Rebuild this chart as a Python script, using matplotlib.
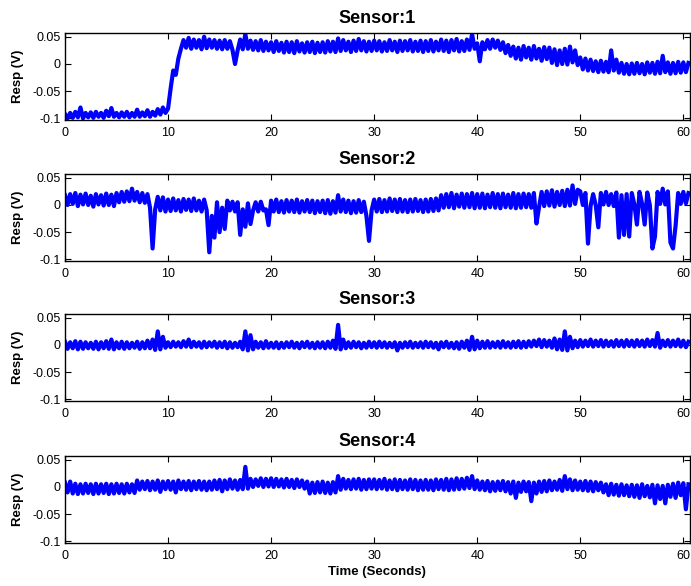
import numpy as np
import matplotlib
matplotlib.use("Agg")
import matplotlib.pyplot as plt

s1_mv = [
    -92, -100, -90, -99, -88, -98, -80, -100, -90, -98, -89, -99, -88, -97, -90, -99, -86, -96, -81, -97,
    -90, -98, -89, -97, -88, -98, -90, -97, -84, -97, -89, -96, -85, -97, -88, -95, -83, -93, -80, -90,
    -82, -45, -12, -20, 10, 28, 44, 30, 48, 28, 45, 30, 44, 27, 50, 29, 45, 30, 44, 28,
    43, 27, 44, 28, 42, 26, 0, 25, 45, 27, 55, 28, 43, 26, 42, 25, 44, 24, 41, 25,
    40, 22, 42, 24, 39, 21, 41, 22, 40, 20, 42, 23, 38, 21, 40, 22, 41, 20, 39, 22,
    40, 21, 42, 23, 41, 22, 47, 24, 44, 25, 41, 22, 43, 24, 46, 25, 42, 23, 41, 24,
    43, 25, 42, 23, 40, 24, 44, 25, 41, 22, 43, 24, 42, 25, 44, 23, 41, 24, 43, 22,
    42, 24, 44, 23, 41, 25, 45, 24, 43, 22, 44, 25, 46, 23, 42, 24, 45, 26, 55, 28,
    38, 5, 40, 27, 44, 28, 45, 30, 43, 26, 40, 20, 35, 15, 32, 10, 30, 8, 33, 12,
    30, 8, 33, 10, 28, 6, 31, 9, 30, 2, 27, -2, 25, 0, 28, -1, 32, 3, 25, -2,
    12, -10, 10, -12, 8, -13, 5, -15, 6, -14, 4, -15, 25, -12, 8, -16, 2, -18, 0, -19,
    1, -18, 2, -17, 0, -19, 3, -16, 2, -18, 4, -17, 15, -15, 3, -18, 2, -17, 4, -16,
    3, -15, 2,
]
s2_mv = [
    18, 0, 20, 2, 22, -2, 19, 1, 21, 0, 17, -3, 20, 1, 18, -1, 21, 0, 19, -2,
    22, 5, 24, 6, 25, 7, 30, 8, 24, 5, 22, 4, 20, -5, -80, -8, 15, -10, 14, -12,
    10, -11, 12, -10, 9, -12, 11, -9, 10, -11, 12, -10, 8, -12, 10, -10, -87, -20, -60, 5,
    -50, -5, -44, 8, -10, 6, -12, 5, -55, -8, -40, 3, -35, -10, 5, -12, 6, -10, -8, -37,
    8, -12, 10, -13, 7, -14, 9, -12, 8, -13, 10, -14, 7, -12, 9, -13, 8, -15, 7, -13,
    8, -15, 9, -16, 7, -14, 18, -12, 10, -13, 8, -15, 7, -14, 9, -13, 6, -20, -66, -10,
    10, -12, 11, -13, 9, -12, 12, -11, 10, -13, 11, -12, 9, -13, 10, -12, 11, -11, 9, -13,
    10, -12, 11, -11, 12, -10, 18, -5, 20, -4, 22, -6, 19, -3, 21, -5, 20, -4, 22, -6,
    20, -5, 21, -6, 19, -4, 22, -5, 20, -6, 21, -4, 19, -5, 22, -6, 20, -5, 21, -4,
    20, -5, 22, -34, -4, 24, -2, 25, -1, 27, -3, 24, 0, 26, -2, 28, -1, 36, 2, 28,
    25, 0, 22, -71, -2, 20, 0, -41, 22, 1, 24, 0, 20, -2, 23, -60, 18, -55, 20, -58,
    22, 1, -36, 24, 2, -36, 23, 0, -80, -58, 24, 2, 30, 1, 25, -69, -80, -38, 22, 2,
    24, 3, 22,
]
s3_mv = [
    6, -7, 5, -6, 7, -8, 6, -7, 5, -6, 4, -7, 6, -8, 5, -6, 7, -7, 10, -8,
    5, -6, 6, -7, 5, -6, 4, -5, 6, -7, 5, -6, 8, -6, 10, -9, 25, -8, 15, -5,
    5, -4, 6, -3, 5, -4, 7, -3, 10, -4, 6, -3, 5, -5, 6, -4, 5, -3, 6, -5,
    5, -4, 6, -6, 5, -5, 4, -4, 6, -8, 25, -10, 18, -8, 6, -5, 5, -6, 7, -5,
    4, -5, 5, -6, 4, -5, 5, -4, 6, -5, 4, -6, 5, -4, 6, -5, 4, -6, 5, -5,
    5, -6, 6, -5, 8, -7, 37, -8, 10, -6, 5, -5, 6, -4, 5, -6, 4, -5, 6, -4,
    5, -5, 6, -4, 5, -5, 4, -4, 5, -10, 4, -5, 5, -4, 6, -5, 4, -4, 5, -5,
    6, -4, 5, -5, 4, -8, 5, -4, 6, -5, 4, -6, 5, -7, 6, -5, 8, -9, 15, -8,
    8, -6, 6, -5, 7, -5, 5, -4, 6, -5, 7, -4, 5, -5, 6, -4, 7, -5, 6, -4,
    7, -3, 8, -2, 10, -4, 9, -3, 8, -5, 12, -8, 10, -9, 25, -10, 15, -6, 8, -4,
    9, -3, 8, -2, 10, -3, 8, -2, 9, -3, 8, -2, 7, -3, 9, -2, 8, -3, 9, -2,
    8, -3, 9, -2, 8, -3, 10, -2, 9, -3, 22, -5, 8, -2, 9, -3, 8, -2, 10, -3,
    8, -4, 6,
]
s4_mv = [
    8, -10, 10, -12, 6, -13, 5, -12, 6, -11, 5, -13, 6, -12, 5, -11, 6, -13, 5, -12,
    6, -11, 5, -12, 6, -10, 5, -11, 12, -5, 10, -4, 11, -6, 10, -5, 12, -9, 10, -4,
    11, -5, 10, -10, 12, -4, 10, -5, 11, -6, 10, -4, 11, -5, 10, -6, 10, -5, 12, -4,
    13, -8, 12, -4, 14, -3, 12, -5, 13, -4, 37, -3, 15, 0, 14, 2, 16, 0, 15, 1,
    16, 0, 15, 1, 14, -1, 15, 0, 13, -2, 14, 0, 12, -3, 10, -12, 8, -11, 9, -10,
    10, -11, 8, -12, 9, -10, 20, -5, 15, -3, 13, -4, 14, -3, 15, -5, 13, -4, 14, -3,
    14, -4, 13, -3, 15, -5, 12, -4, 14, -6, 13, -4, 12, -5, 14, -4, 13, -6, 12, -5,
    13, -5, 12, -6, 14, -4, 13, -5, 15, -6, 14, -5, 16, -4, 15, -3, 17, -2, 20, -4,
    12, -5, 10, -6, 11, -8, 9, -7, 10, -6, 11, -8, 9, -12, 10, -20, 8, -9, 10, -8,
    9, -26, 8, -12, 10, -9, 11, -8, 12, -6, 10, -5, 13, -7, 20, -4, 14, -6, 12, -5,
    10, -6, 11, -7, 10, -8, 9, -6, 8, -10, 5, -15, 6, -14, 4, -16, 5, -15, 3, -17,
    4, -18, 3, -20, 5, -17, 2, -19, 4, -30, 3, -22, 2, -30, 4, -18, 6, -20, 8, -15,
    7, -41, 5,
]

sensors = [s1_mv, s2_mv, s3_mv, s4_mv]
titles = ["Sensor:1", "Sensor:2", "Sensor:3", "Sensor:4"]
yticks = [-0.1, -0.05, 0, 0.05]
ytick_labels = ["-0.1", "-0.05", "0", "0.05"]
xticks = [0, 10, 20, 30, 40, 50, 60]

plt.rcParams["font.family"] = ["Liberation Sans", "DejaVu Sans"]

fig = plt.figure(figsize=(6.91, 5.86), dpi=100)

boxes = [(33, 120), (174, 261), (314, 401), (456, 543)]
W, H = 691, 586
left, right = 65, 689.5

for i, (vals, title) in enumerate(zip(sensors, titles)):
    top, bot = boxes[i]
    ax = fig.add_axes([left / W, 1 - bot / H, (right - left) / W, (bot - top) / H])
    v = np.array(vals) / 1000.0
    t = np.arange(len(v)) * 0.25
    ax.plot(t, v, color="#0000ff", linewidth=3.0, solid_joinstyle="round")
    ax.set_xlim(0, 60.6)
    ax.set_ylim(-0.103, 0.057)
    ax.set_xticks(xticks)
    ax.set_yticks(yticks)
    ax.set_yticklabels(ytick_labels)
    ax.tick_params(direction="in", top=True, right=True, length=4, width=0.8,
                   labelsize=9)
    ax.tick_params(axis="x", pad=5)
    ax.tick_params(axis="y", pad=3)
    for sp in ax.spines.values():
        sp.set_linewidth(1.0)
    ax.set_title(title, fontsize=13, fontweight="bold", pad=7.5)
    ax.set_ylabel("Resp (V)", fontsize=9.5, fontweight="bold", labelpad=6)
    if i == 3:
        ax.set_xlabel("Time (Seconds)", fontsize=9.5, fontweight="bold", labelpad=3)

fig.savefig("out.png", dpi=100)
